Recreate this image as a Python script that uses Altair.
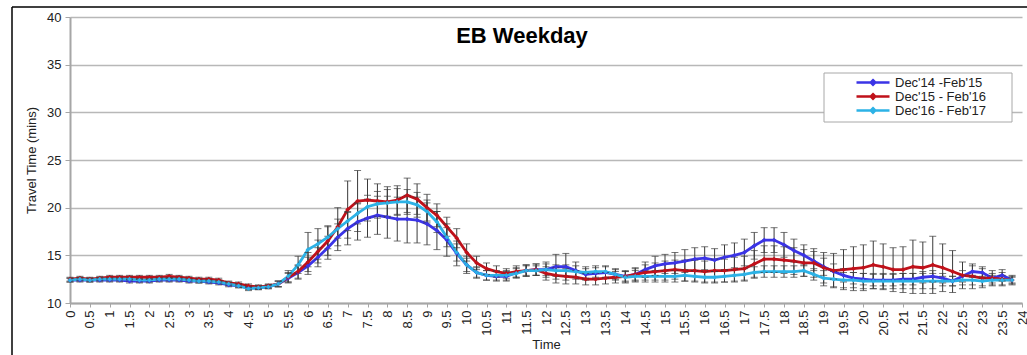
import altair as alt
import pandas as pd

# Quarter-hour time slots, 0:00 .. 23:45
times = [i * 0.25 for i in range(96)]

series_names = ["Dec'14 -Feb'15", "Dec'15 - Feb'16", "Dec'16 - Feb'17"]
series_colors = ["#3b34e6", "#c0111a", "#2cb2e6"]

# Average weekday eastbound travel time (minutes), four values per hour
tt_1415 = [
    12.4, 12.4, 12.4, 12.4,  12.4, 12.4, 12.3, 12.3,  12.3, 12.4, 12.4, 12.4,
    12.3, 12.3, 12.2, 12.1,  11.9, 11.8, 11.6, 11.6,  11.7, 12.0, 12.6, 13.2,
    13.9, 14.8, 15.8, 16.9,  17.8, 18.5, 18.9, 19.2,  19.0, 18.8, 18.8, 18.7,
    18.3, 17.6, 16.6, 15.2,  14.0, 13.2, 12.9, 12.8,  12.8, 13.2, 13.4, 13.5,
    13.5, 13.8, 13.8, 13.4,  13.0, 13.1, 13.2, 13.0,  12.8, 13.0, 13.5, 13.9,
    14.1, 14.2, 14.4, 14.6,  14.7, 14.5, 14.8, 15.0,  15.3, 16.0, 16.6, 16.6,
    16.1, 15.5, 15.0, 14.4,  13.8, 13.3, 12.9, 12.6,  12.5, 12.4, 12.4, 12.4,
    12.5, 12.5, 12.7, 12.8,  12.6, 12.3, 12.8, 13.3,  13.2, 12.6, 12.9, 12.4,
]
tt_1516 = [
    12.5, 12.6, 12.5, 12.6,  12.7, 12.7, 12.7, 12.7,  12.7, 12.7, 12.8, 12.7,
    12.6, 12.5, 12.5, 12.4,  12.1, 12.0, 11.8, 11.7,  11.8, 12.0, 12.7, 13.3,
    14.3, 15.4, 16.5, 18.0,  19.8, 20.7, 20.8, 20.7,  20.6, 20.8, 21.3, 20.9,
    20.0, 19.2, 18.0, 16.8,  15.3, 14.2, 13.6, 13.3,  13.1, 13.3, 13.4, 13.5,
    13.1, 12.9, 12.8, 12.7,  12.5, 12.5, 12.6, 12.7,  12.8, 13.0, 13.2, 13.3,
    13.4, 13.5, 13.4, 13.4,  13.3, 13.4, 13.4, 13.5,  13.6, 14.1, 14.6, 14.6,
    14.5, 14.4, 14.2, 14.2,  13.7, 13.4, 13.5, 13.6,  13.7, 14.0, 13.8, 13.5,
    13.5, 13.8, 13.7, 14.0,  13.7, 13.3, 12.9, 12.8,  12.6, 12.6, 12.5, 12.4,
]
tt_1617 = [
    12.4, 12.5, 12.4, 12.5,  12.5, 12.5, 12.5, 12.4,  12.4, 12.5, 12.5, 12.5,
    12.4, 12.3, 12.3, 12.2,  12.0, 11.8, 11.5, 11.6,  11.7, 12.0, 12.8, 14.0,
    15.6, 16.2, 16.9, 17.8,  18.6, 19.4, 20.1, 20.4,  20.5, 20.6, 20.6, 20.3,
    19.6, 18.5, 16.9, 15.3,  14.0, 13.2, 12.9, 12.9,  12.9, 13.1, 13.4, 13.4,
    13.5, 13.4, 13.4, 13.3,  13.2, 13.3, 13.3, 13.0,  12.7, 12.8, 12.8, 12.8,
    12.8, 12.8, 12.9, 12.8,  12.7, 12.7, 12.8, 12.9,  13.0, 13.2, 13.3, 13.3,
    13.3, 13.3, 13.4, 13.0,  12.6, 12.5, 12.4, 12.4,  12.3, 12.3, 12.3, 12.3,
    12.3, 12.3, 12.3, 12.3,  12.3, 12.3, 12.4, 12.4,  12.3, 12.4, 12.4, 12.4,
]

# Error bar half-widths (minutes)
err_1415 = [
    0.2, 0.2, 0.2, 0.2,  0.2, 0.2, 0.2, 0.2,  0.2, 0.2, 0.2, 0.2,
    0.2, 0.2, 0.2, 0.2,  0.2, 0.2, 0.2, 0.2,  0.2, 0.3, 0.5, 0.7,
    0.9, 1.0, 1.2, 1.4,  1.7, 1.9, 2.0, 2.0,  2.2, 2.3, 2.5, 2.4,
    2.2, 2.0, 1.7, 1.3,  0.9, 0.6, 0.5, 0.5,  0.5, 0.5, 0.6, 0.6,
    0.8, 1.3, 1.4, 0.9,  0.6, 0.6, 0.6, 0.5,  0.5, 0.6, 0.8, 1.0,
    1.0, 1.1, 1.2, 1.2,  1.2, 1.2, 1.3, 1.3,  1.4, 1.4, 1.3, 1.3,
    1.3, 1.2, 1.1, 1.0,  0.9, 0.8, 0.7, 0.6,  0.6, 0.6, 0.6, 0.6,
    0.6, 0.6, 0.6, 0.6,  0.5, 0.5, 0.6, 0.6,  0.6, 0.5, 0.6, 0.3,
]
err_1516 = [
    0.2, 0.2, 0.2, 0.2,  0.2, 0.2, 0.2, 0.2,  0.2, 0.2, 0.2, 0.2,
    0.2, 0.2, 0.2, 0.2,  0.2, 0.2, 0.2, 0.2,  0.2, 0.3, 0.5, 0.7,
    1.0, 1.2, 1.5, 2.0,  3.0, 3.2, 2.2, 1.8,  1.6, 1.5, 1.8, 1.6,
    1.4, 1.2, 1.0, 1.0,  0.9, 0.7, 0.6, 0.6,  0.5, 0.6, 0.6, 0.6,
    0.7, 0.8, 0.8, 0.7,  0.6, 0.6, 0.6, 0.6,  0.6, 0.7, 0.8, 0.9,
    1.0, 1.0, 1.1, 1.1,  1.1, 1.2, 1.2, 1.3,  1.3, 1.4, 1.4, 1.4,
    1.4, 1.4, 1.4, 1.5,  1.6, 1.8, 2.1, 2.3,  2.4, 2.5, 2.4, 2.3,
    2.4, 2.8, 2.7, 3.0,  2.5, 2.2, 1.4, 1.3,  1.0, 0.8, 0.7, 0.4,
]
err_1617 = [
    0.2, 0.2, 0.2, 0.2,  0.2, 0.2, 0.2, 0.2,  0.2, 0.2, 0.2, 0.2,
    0.2, 0.2, 0.2, 0.2,  0.2, 0.2, 0.2, 0.2,  0.2, 0.3, 0.6, 0.9,
    1.8, 1.6, 1.2, 1.0,  1.0, 1.1, 1.2, 1.3,  1.4, 1.4, 1.3, 1.3,
    1.2, 1.1, 1.0, 0.9,  0.7, 0.5, 0.5, 0.5,  0.5, 0.5, 0.5, 0.5,
    0.6, 0.6, 0.6, 0.6,  0.6, 0.6, 0.6, 0.6,  0.6, 0.6, 0.6, 0.6,
    0.6, 0.6, 0.6, 0.6,  0.6, 0.6, 0.6, 0.6,  0.6, 0.6, 0.6, 0.6,
    0.6, 0.6, 0.6, 0.6,  0.8, 0.8, 0.8, 0.8,  0.8, 0.8, 0.8, 0.8,
    0.8, 0.8, 0.8, 0.8,  0.5, 0.5, 0.5, 0.5,  0.5, 0.5, 0.5, 0.5,
]

x_ticks = [i * 0.5 for i in range(49)]
y_ticks = [10, 15, 20, 25, 30, 35, 40]

rows = []
for name, vals, errs in zip(series_names, [tt_1415, tt_1516, tt_1617],
                            [err_1415, err_1516, err_1617]):
    for t, v, e in zip(times, vals, errs):
        rows.append({"series": name, "t": t, "v": v, "lo": v - e, "hi": v + e})
df = pd.DataFrame(rows)

FONT = "Liberation Sans"
PW, PH = 952, 286

x_axis = alt.Axis(values=x_ticks, format="~g", labelAngle=270,
                  labelAlign="right", labelBaseline="middle",
                  labelFontSize=13, labelPadding=3, tickSize=4,
                  grid=False, titleFontSize=13, titlePadding=3,
                  labelOverlap=False, labelFlush=False)
x_scale = alt.Scale(domain=[0, 24], nice=False, zero=False)
y_axis = alt.Axis(values=y_ticks, labelFontSize=13, tickSize=5,
                  labelPadding=4, titleFontSize=13, titlePadding=8)
y_scale = alt.Scale(domain=[10, 40], nice=False, zero=False)
Y_TITLE = "Travel Time (mins)"


def xenc():
    return alt.X("t:Q", title="Time", scale=x_scale, axis=x_axis)


def yenc(field):
    return alt.Y(f"{field}:Q", title=Y_TITLE, scale=y_scale, axis=y_axis)


legend_symbol = "M0,0 H6.6 M3.3,-0.45 L3.75,0 L3.3,0.45 L2.85,0 Z"
color_enc = alt.Color(
    "series:N",
    scale=alt.Scale(domain=series_names, range=series_colors),
    legend=alt.Legend(title=None, orient="none", legendX=754, legendY=54,
                      symbolType=legend_symbol, symbolSize=100,
                      symbolStrokeWidth=2.5, symbolOffset=21, labelOffset=32,
                      labelFontSize=13, labelFont=FONT, labelColor="#222",
                      padding=5, rowPadding=-3, strokeColor=None,
                      fillColor=None),
)

base = alt.Chart(df)

lines = base.mark_line(strokeWidth=2.8).encode(x=xenc(), y=yenc("v"), color=color_enc)
points = base.mark_point(shape="diamond", filled=True, size=22, opacity=1).encode(
    x=xenc(), y=yenc("v"), color=color_enc)
errbars = base.mark_errorbar(ticks={"size": 7}, color="#3a3a3a", thickness=1).encode(
    x=xenc(), y=yenc("lo"), y2="hi:Q")

one = pd.DataFrame({"label": ["EB Weekday"]})
title = alt.Chart(one).mark_text(font=FONT, fontSize=22, fontWeight="bold",
                                 color="#000", baseline="middle").encode(
    text="label:N", x=alt.value(452), y=alt.value(19))

# legend box behind the legend entries
legend_box = alt.Chart(one).mark_rect(fill="white", stroke="#a8a8a8", strokeWidth=1).encode(
    x=alt.value(754), x2=alt.value(942), y=alt.value(56), y2=alt.value(105))

# outer frame (left and top edges)
frame_left = alt.Chart(one).mark_rule(color="#000", strokeWidth=1.5).encode(
    x=alt.value(-58), y=alt.value(-10), y2=alt.value(340))
frame_top = alt.Chart(one).mark_rule(color="#000", strokeWidth=1.5).encode(
    x=alt.value(-58), x2=alt.value(960), y=alt.value(-10))

chart = alt.layer(lines, errbars, points, legend_box, title, frame_left, frame_top).properties(
    width=PW, height=PH,
    padding={"left": 70, "top": 17, "right": 5, "bottom": 52},
    autosize=alt.AutoSizeParams(type="none"),
    background="white",
).configure_view(stroke=None).configure_axis(
    labelFont=FONT, titleFont=FONT, labelColor="#222", titleColor="#222",
    titleFontWeight="normal", domainColor="#a6a6a6", domainWidth=2,
    tickColor="#a6a6a6", gridColor="#b8b8b8", gridWidth=1.6,
)

chart.save("out.html", embed_options={"renderer": "svg", "actions": False})
